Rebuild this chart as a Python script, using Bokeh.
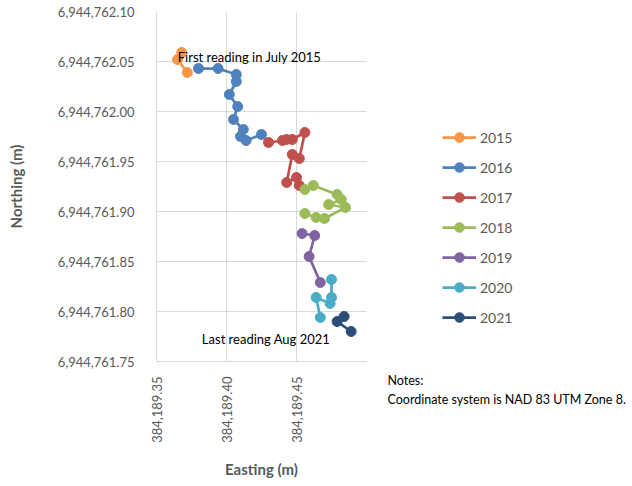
import math
from bokeh.plotting import figure
from bokeh.layouts import row
from bokeh.models import (Range1d, FixedTicker, NumeralTickFormatter, Legend,
                          LegendItem, Label, Title)
from bokeh.embed import file_html
from bokeh.resources import INLINE

years = ["2015", "2016", "2017", "2018", "2019", "2020", "2021"]
colors = ["#F79646", "#4F81BD", "#C0504D", "#9BBB59", "#8064A2", "#4BACC6", "#2C4D75"]

east_2015 = [384189.368, 384189.365, 384189.372]
north_2015 = [6944762.059, 6944762.052, 6944762.039]

east_2016 = [384189.380, 384189.394, 384189.407, 384189.407, 384189.402, 384189.408,
             384189.405, 384189.412, 384189.410, 384189.414, 384189.425]
north_2016 = [6944762.043, 6944762.043, 6944762.037, 6944762.030, 6944762.017, 6944762.005,
              6944761.992, 6944761.982, 6944761.975, 6944761.971, 6944761.977]

east_2017 = [384189.430, 384189.440, 384189.443, 384189.447, 384189.456, 384189.452,
             384189.447, 384189.443, 384189.450, 384189.452]
north_2017 = [6944761.969, 6944761.971, 6944761.972, 6944761.972, 6944761.979, 6944761.953,
              6944761.957, 6944761.929, 6944761.934, 6944761.926]

east_2018 = [384189.456, 384189.462, 384189.479, 384189.482, 384189.473, 384189.485,
             384189.470, 384189.464, 384189.456]
north_2018 = [6944761.922, 6944761.926, 6944761.917, 6944761.912, 6944761.907, 6944761.904,
              6944761.893, 6944761.894, 6944761.898]

east_2019 = [384189.454, 384189.463, 384189.459, 384189.467]
north_2019 = [6944761.878, 6944761.876, 6944761.855, 6944761.829]

east_2020 = [384189.475, 384189.475, 384189.474, 384189.464, 384189.467]
north_2020 = [6944761.832, 6944761.814, 6944761.808, 6944761.814, 6944761.794]

east_2021 = [384189.484, 384189.479, 384189.489]
north_2021 = [6944761.795, 6944761.790, 6944761.780]

x_ticks = [384189.35, 384189.40, 384189.45]
y_ticks = [6944761.75, 6944761.80, 6944761.85, 6944761.90, 6944761.95,
           6944762.00, 6944762.05, 6944762.10]

notes = ["Notes:", "Coordinate system is NAD 83 UTM Zone 8."]

series = [(east_2015, north_2015), (east_2016, north_2016), (east_2017, north_2017),
          (east_2018, north_2018), (east_2019, north_2019), (east_2020, north_2020),
          (east_2021, north_2021)]

FONT = "Lato"
GRAY = "#595959"
GRID = "#d9d9d9"
H = 484
W1 = 372
W2 = 630 - W1

# ---- main chart ----
p = figure(width=W1, height=H, output_backend="svg", toolbar_location=None,
           x_range=Range1d(384189.35, 384189.50),
           y_range=Range1d(6944761.75, 6944762.10),
           min_border_left=156, min_border_right=6,
           min_border_top=11, min_border_bottom=123)
p.outline_line_color = None

for ax, ticks in ((p.xaxis[0], x_ticks), (p.yaxis[0], y_ticks)):
    ax.ticker = FixedTicker(ticks=ticks)
    ax.formatter = NumeralTickFormatter(format="0,0.00")
    ax.major_tick_line_color = None
    ax.minor_tick_line_color = None
    ax.axis_line_color = GRID
    ax.major_label_text_font = FONT
    ax.major_label_text_font_size = "13px"
    ax.major_label_text_color = GRAY
    ax.axis_label_text_font = FONT
    ax.axis_label_text_font_size = "15px"
    ax.axis_label_text_font_style = "bold"
    ax.axis_label_text_color = GRAY

p.xaxis.axis_label = "Easting (m)"
p.yaxis.axis_label = "Northing (m)"
p.xaxis.major_label_orientation = math.pi / 2
p.xaxis.major_label_standoff = 9
p.xaxis.axis_label_standoff = 14
p.yaxis.major_label_standoff = 16
p.yaxis.axis_label_standoff = 30

p.xgrid.ticker = FixedTicker(ticks=x_ticks)
p.ygrid.ticker = FixedTicker(ticks=y_ticks)
p.xgrid.grid_line_color = GRID
p.ygrid.grid_line_color = GRID

for yr, col, (xs, ys) in zip(years, colors, series):
    p.line(xs, ys, line_color=col, line_width=2.75)
    p.scatter(xs, ys, size=10, fill_color=col, line_color=col)

p.add_layout(Label(x=384189.3652, y=6944762.0545, text="First reading in July 2015",
                   text_baseline="middle", text_font=FONT, text_font_size="13px",
                   text_color="#000000"))
p.add_layout(Label(x=384189.3824, y=6944761.7725, text="Last reading Aug 2021",
                   text_baseline="middle", text_font=FONT, text_font_size="13px",
                   text_color="#000000"))

# ---- side panel: legend and notes ----
q = figure(width=W2, height=H, output_backend="svg", toolbar_location=None,
           x_range=Range1d(0, W2), y_range=Range1d(0, H),
           x_axis_type=None, y_axis_type=None,
           min_border_left=0, min_border_right=0, min_border_top=0, min_border_bottom=0)
q.outline_line_color = None
q.xgrid.visible = False
q.ygrid.visible = False

items = []
for yr, col, (xs, ys) in zip(years, colors, series):
    # same series, far outside this panel's ranges: they only feed the legend
    rl = q.line(xs, ys, line_color=col, line_width=2.75)
    rs = q.scatter(xs, ys, size=10, fill_color=col, line_color=col)
    items.append(LegendItem(label=yr, renderers=[rl, rs]))

legend = Legend(items=items, location=(70, 32), orientation="vertical",
                border_line_color=None, background_fill_alpha=0,
                label_text_font=FONT, label_text_font_size="14px",
                label_text_color=GRAY, glyph_width=34, glyph_height=24,
                label_height=24, spacing=6, padding=0, margin=0,
                label_standoff=4)
q.add_layout(legend)

q.add_layout(Title(text="\n".join(notes), align="left", offset=15,
                   vertical_align="top", standoff=22, text_font=FONT,
                   text_font_size="12.5px", text_font_style="normal",
                   text_color="#000000", text_line_height=1.3), "below")

layout = row(p, q)
open("out.html", "w").write(file_html(layout, INLINE))
